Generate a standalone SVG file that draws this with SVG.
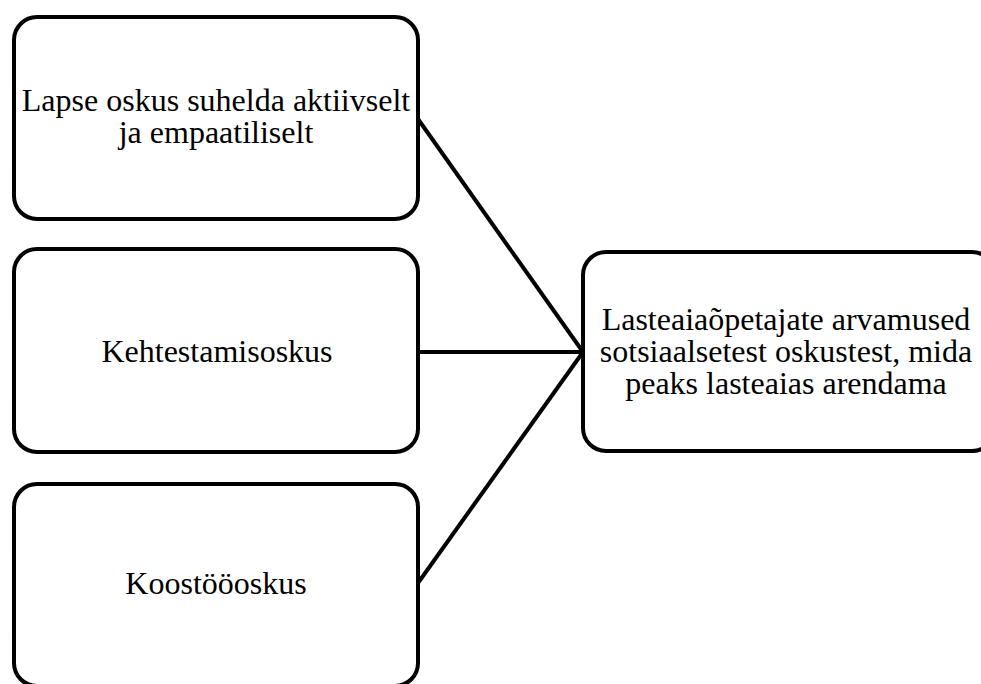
<svg xmlns="http://www.w3.org/2000/svg" width="981" height="684" viewBox="0 0 981 684">
<style>
.box{fill:#fff;stroke:#000;stroke-width:4}
.lbl{font-family:"Liberation Serif","Times New Roman","DejaVu Serif",serif;font-size:32px;fill:#000;text-anchor:middle}
.con{stroke:#000;stroke-width:4;fill:none}
</style>
<rect width="981" height="684" fill="#fff"/>
<g id="connectors">
<line class="con" x1="418" y1="119" x2="583" y2="352"/>
<line class="con" x1="418" y1="352" x2="583" y2="352"/>
<line class="con" x1="418" y1="583" x2="583" y2="352"/>
</g>
<g id="node1">
<rect class="box" x="14" y="17" width="404" height="202" rx="23"/>
<text class="lbl" x="216" y="111">Lapse oskus suhelda aktiivselt</text>
<text class="lbl" x="216" y="143">ja empaatiliselt</text>
</g>
<g id="node2">
<rect class="box" x="14" y="249" width="404" height="203" rx="23"/>
<text class="lbl" x="217" y="362">Kehtestamisoskus</text>
</g>
<g id="node3">
<rect class="box" x="14" y="484" width="404" height="202" rx="23"/>
<text class="lbl" x="216" y="594">Koostööoskus</text>
</g>
<g id="node4">
<rect class="box" x="583" y="252" width="412" height="199" rx="23"/>
<text class="lbl" x="786" y="330">Lasteaiaõpetajate arvamused</text>
<text class="lbl" x="786" y="362">sotsiaalsetest oskustest, mida</text>
<text class="lbl" x="786" y="394">peaks lasteaias arendama</text>
</g>
</svg>
